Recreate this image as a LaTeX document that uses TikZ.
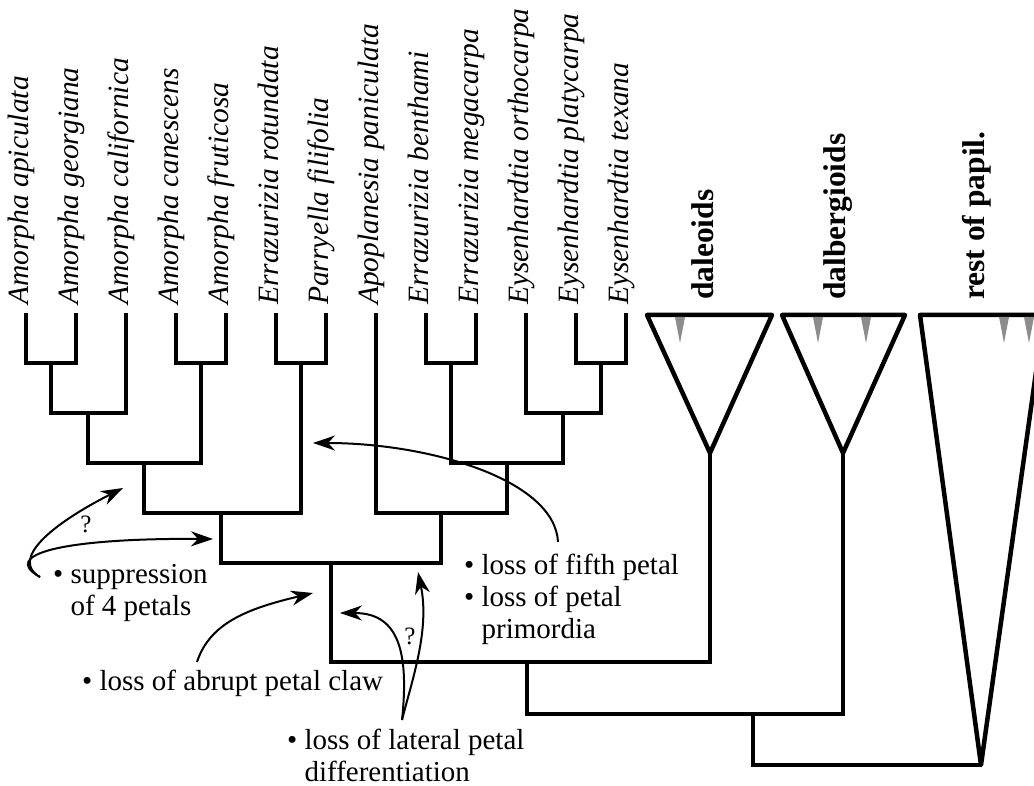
\documentclass[tikz,border=0pt]{standalone}
\usepackage{fontspec}
\setmainfont{Liberation Serif}
\usetikzlibrary{arrows.meta}

\begin{document}
\begin{tikzpicture}[x=1pt, y=-1pt,
    branch/.style={line width=4.5pt, line join=miter},
    clade/.style={line width=4.5pt, line join=round},
    petalmark/.style={fill=black!45},
    taxon/.style={rotate=90, anchor=base west, inner sep=0pt, font=\fontsize{29.5}{33}\selectfont\itshape},
    group/.style={rotate=90, anchor=base west, inner sep=0pt, font=\fontsize{31.5}{35}\selectfont\bfseries},
    note/.style={anchor=base west, align=left, inner sep=0pt, font=\fontsize{29}{32}\selectfont},
    query/.style={inner sep=0pt, font=\fontsize{25}{27}\selectfont},
    evo/.style={line width=2pt, -{Stealth[length=22pt, width=15pt, inset=7pt]}}]
    \useasboundingbox (0, 0) rectangle (1034, 786);
        % taxa
        \node[taxon] (apic) at (28.5, 305) {Amorpha apiculata};
        \node[taxon] (georg) at (78.5, 305) {Amorpha georgiana};
        \node[taxon] (calif) at (128.5, 305) {Amorpha californica};
        \node[taxon] (canes) at (178.5, 305) {Amorpha canescens};
        \node[taxon] (frut) at (228.5, 305) {Amorpha fruticosa};
        \node[taxon] (rotund) at (278.5, 305) {Errazurizia rotundata};
        \node[taxon] (filif) at (328.5, 305) {Parryella filifolia};
        \node[taxon] (panic) at (378.5, 305) {Apoplanesia paniculata};
        \node[taxon] (benth) at (428.5, 305) {Errazurizia benthami};
        \node[taxon] (megac) at (478.5, 305) {Errazurizia megacarpa};
        \node[taxon] (ortho) at (528.5, 305) {Eysenhardtia orthocarpa};
        \node[taxon] (platy) at (578.5, 305) {Eysenhardtia platycarpa};
        \node[taxon] (texan) at (628.5, 305) {Eysenhardtia texana};
        \node[group] (daleo) at (713, 300) {daleoids};
        \node[group] (dalbe) at (845, 300) {dalbergioids};
        \node[group] (papil) at (984, 300) {rest of papil.};
        % tips
        \coordinate (t1) at (26, 313);
        \coordinate (t2) at (76, 313);
        \coordinate (t3) at (126, 313);
        \coordinate (t4) at (176, 313);
        \coordinate (t5) at (226, 313);
        \coordinate (t6) at (276, 313);
        \coordinate (t7) at (326, 313);
        \coordinate (t8) at (376, 313);
        \coordinate (t9) at (426, 313);
        \coordinate (t10) at (476, 313);
        \coordinate (t11) at (526, 313);
        \coordinate (t12) at (576, 313);
        \coordinate (t13) at (626, 313);
        % internal nodes
        \coordinate (n1) at (51, 363);
        \coordinate (n2) at (88, 413);
        \coordinate (n3) at (201, 363);
        \coordinate (n4) at (144, 463);
        \coordinate (n5) at (301, 363);
        \coordinate (n6) at (221, 513);
        \coordinate (n7) at (451, 363);
        \coordinate (n8) at (601, 363);
        \coordinate (n9) at (563, 413);
        \coordinate (n10) at (507, 463);
        \coordinate (n11) at (441, 513);
        \coordinate (n12) at (331, 563);
        \coordinate (n13) at (527, 662);
        \coordinate (n14) at (753, 714);
        \coordinate (dal) at (710, 453);
        \coordinate (dbg) at (843, 453);
        \coordinate (rst) at (981, 765);
        % tree
        \draw[branch] (t1) |- (n1) -| (t2);
        \draw[branch] (n1) |- (n2) -| (t3);
        \draw[branch] (t4) |- (n3) -| (t5);
        \draw[branch] (n2) |- (n4) -| (n3);
        \draw[branch] (t6) |- (n5) -| (t7);
        \draw[branch] (n4) |- (n6) -| (n5);
        \draw[branch] (t9) |- (n7) -| (t10);
        \draw[branch] (t12) |- (n8) -| (t13);
        \draw[branch] (t11) |- (n9) -| (n8);
        \draw[branch] (n7) |- (n10) -| (n9);
        \draw[branch] (t8) |- (n11) -| (n10);
        \draw[branch] (n6) |- (n12) -| (n11);
        \draw[branch] (n12) |- (n13) -| (dal);
        \draw[branch] (n13) |- (n14) -| (dbg);
        \draw[branch] (n14) |- (rst);
        % collapsed clades
        \draw[clade] (dal) -- (647, 315) -- (772, 315) -- cycle;
        \draw[clade] (dbg) -- (782, 315) -- (905, 315) -- cycle;
        \draw[clade] (rst) -- (920, 315) -- (1044, 315) -- cycle;
        \fill[petalmark] (675, 317) -- (685, 317) -- (680, 343) -- cycle;
        \fill[petalmark] (813, 317) -- (823, 317) -- (818, 343) -- cycle;
        \fill[petalmark] (861, 317) -- (871, 317) -- (866, 343) -- cycle;
        \fill[petalmark] (999, 317) -- (1009, 317) -- (1004, 343) -- cycle;
        \fill[petalmark] (1024, 317) -- (1034, 317) -- (1029, 343) -- cycle;
        % character changes (base = last line)
        \node[note] (supp) at (53, 615) {\textbullet\ suppression\\\hphantom{\textbullet\ }of 4 petals};
        \node[note] (claw) at (82, 690) {\textbullet\ loss of abrupt petal claw};
        \node[note] (later) at (287, 781) {\textbullet\ loss of lateral petal\\\hphantom{\textbullet\ }differentiation};
        \node[note] (fifth) at (464, 638) {\textbullet\ loss of fifth petal\\\textbullet\ loss of petal\\\hphantom{\textbullet\ }primordia};
        \coordinate (supp-o) at (40, 577);
        \coordinate (supp-a) at (123, 488);
        \coordinate (supp-b) at (213, 539);
        \coordinate (claw-o) at (197, 662);
        \coordinate (claw-a) at (313, 593);
        \coordinate (later-o) at (402, 720);
        \coordinate (later-a) at (418, 572);
        \coordinate (later-b) at (340, 613);
        \coordinate (fifth-o) at (558, 542);
        \coordinate (fifth-a) at (313, 443);
        \draw[evo] (supp-o) .. controls (10, 560) and (50, 525) .. (supp-a);
        \draw[evo] (supp-o) .. controls (0, 555) and (60, 538) .. (supp-b);
        \draw[evo] (claw-o) .. controls (210, 622) and (250, 608) .. (claw-a);
        \draw[evo] (later-o) .. controls (412, 680) and (430, 630) .. (later-a);
        \draw[evo] (later-o) .. controls (410, 645) and (395, 613) .. (later-b);
        \draw[evo] (fifth-o) .. controls (555, 480) and (430, 443) .. (fifth-a);
        \node[query] (q1) at (86, 524) {?};
        \node[query] (q2) at (410, 636) {?};
    \end{tikzpicture}
\end{document}
